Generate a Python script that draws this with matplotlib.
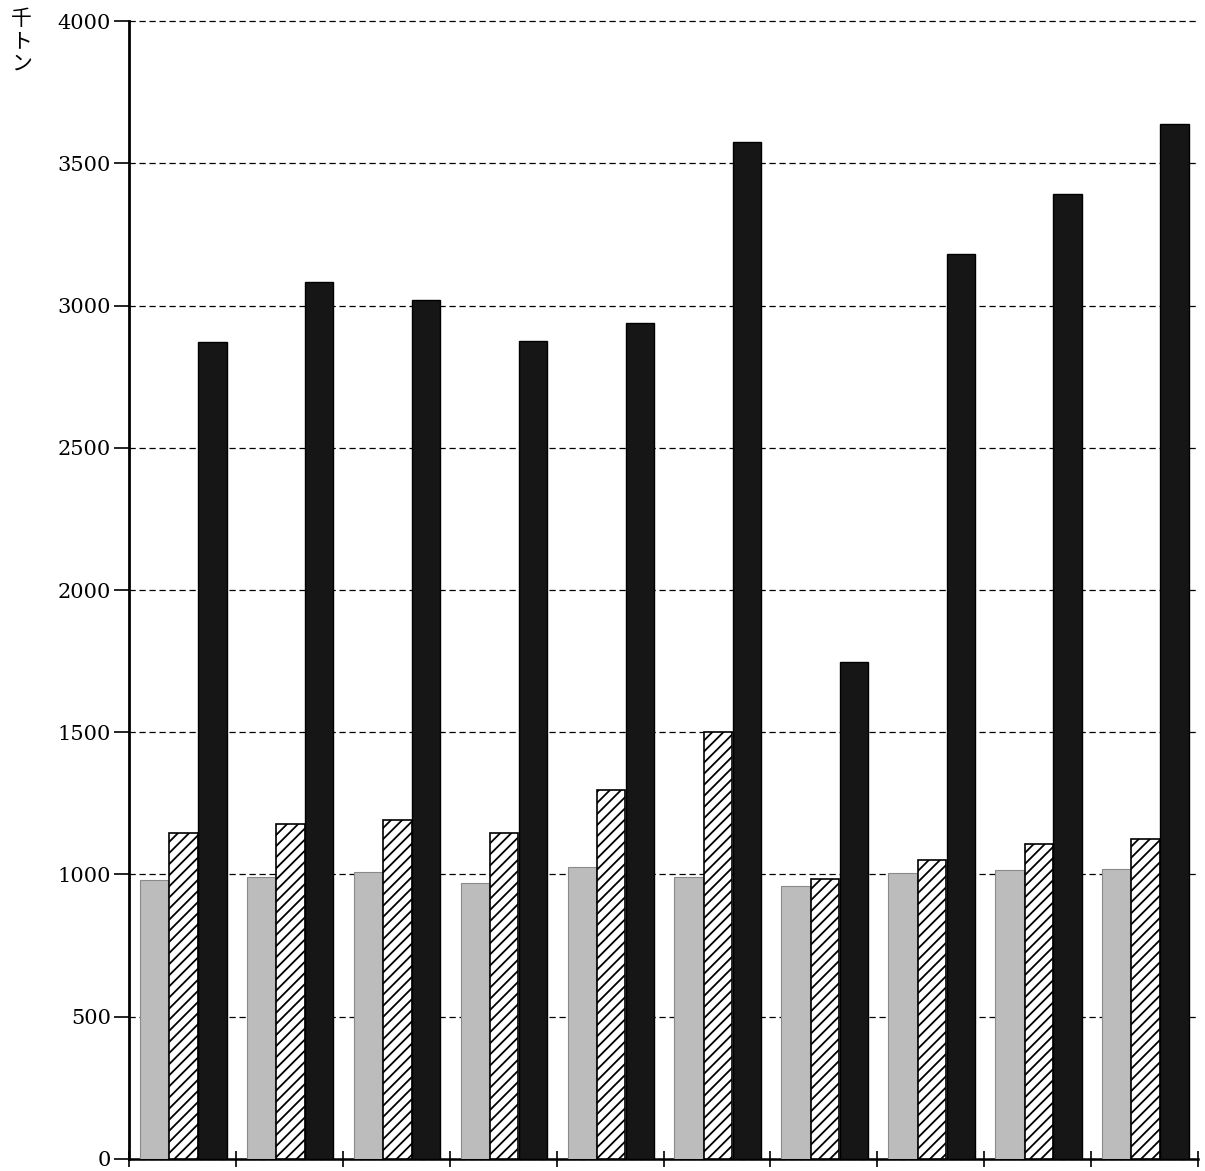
import matplotlib.pyplot as plt
import numpy as np

# 10 groups, 3 series each (values in thousand tonnes)
groups = list(range(10))
gray_vals = [980, 990, 1010, 970, 1025, 990, 960, 1005, 1015, 1020]
hatch_vals = [1146, 1179, 1193, 1146, 1296, 1500, 985, 1050, 1107, 1125]
black_vals = [2871, 3082, 3021, 2875, 2939, 3575, 1746, 3182, 3393, 3639]
yticks = [0, 500, 1000, 1500, 2000, 2500, 3000, 3500, 4000]

plt.rcParams['hatch.linewidth'] = 1.3

fig = plt.figure(figsize=(12.05, 11.71), dpi=100)
ax = fig.add_axes([0.1071, 0.0103, 0.8871, 0.9717])

x = np.array(groups)
w = 0.265
ax.bar(x + 0.235, gray_vals, width=w, color='#bcbcbc', edgecolor='#8a8a8a', linewidth=0.8, zorder=3)
ax.bar(x + 0.51, hatch_vals, width=w, color='white', edgecolor='black', hatch='///', linewidth=1.2, zorder=3)
ax.bar(x + 0.78, black_vals, width=w, color='#161616', edgecolor='black', linewidth=1.0, zorder=3)

ax.set_xlim(0, 10)
ax.set_ylim(0, 4000)
ax.set_yticks(yticks)
ax.set_yticklabels([str(v) for v in yticks], fontfamily='DejaVu Serif', fontsize=15)
ax.set_xticks(range(11))
ax.set_xticklabels([])

ax.tick_params(axis='y', direction='out', length=11, width=1.2, pad=2)
ax.tick_params(axis='x', direction='inout', length=11, width=1.2)

ax.yaxis.grid(True, linestyle=(0, (5, 3)), color='black', linewidth=0.9, zorder=1)
ax.set_axisbelow(True)
for gl in ax.yaxis.get_gridlines():
    gl.set_clip_on(False)

ax.spines['top'].set_visible(False)
ax.spines['right'].set_visible(False)
ax.spines['left'].set_linewidth(2.0)
ax.spines['bottom'].set_linewidth(1.8)

# vertical unit label
fig.text(0.018, 0.993, '千\nト\nン', fontfamily=['Noto Sans CJK JP', 'DejaVu Sans'],
         fontsize=15, va='top', ha='center', linespacing=1.0)

fig.savefig('out.png', dpi=100)
